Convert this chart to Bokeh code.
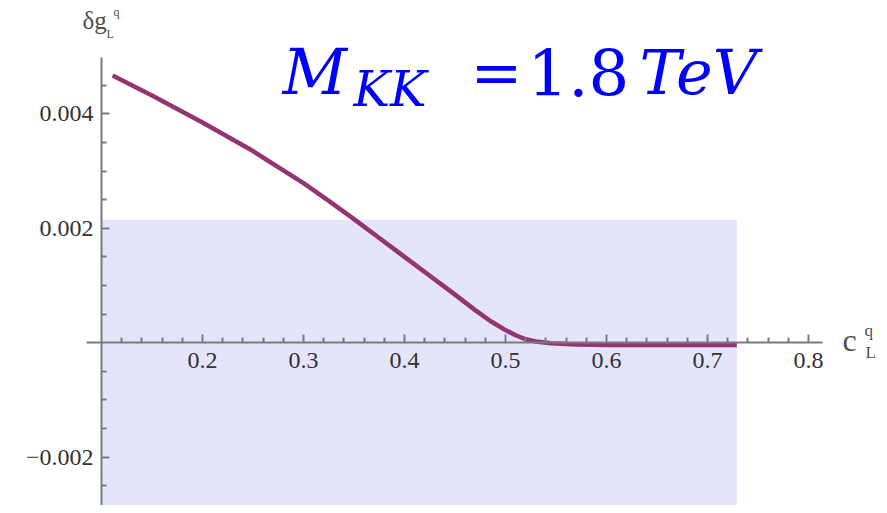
from bokeh.plotting import figure
from bokeh.models import LinearAxis, FixedTicker, Label, Range1d
from bokeh.embed import file_html
from bokeh.resources import INLINE

# ---- data ----
c_L = [0.111, 0.15, 0.2, 0.25, 0.3, 0.325, 0.35, 0.375, 0.4, 0.425, 0.45,
       0.47, 0.485, 0.5, 0.51, 0.52, 0.53, 0.545, 0.57, 0.6, 0.65, 0.729]
delta_g = [0.00467, 0.00432, 0.00385, 0.00335, 0.00279, 0.00248, 0.00216,
           0.00183, 0.00150, 0.00117, 0.00084, 0.00057, 0.00038, 0.00022,
           0.00013, 0.00006, 0.00002, -0.00001, -0.00003, -0.00004,
           -0.00004, -0.00004]

band_x = [0.1, 0.729]
band_y = [-0.00284, 0.00215]

x_ticks = [0.2, 0.3, 0.4, 0.5, 0.6, 0.7, 0.8]
x_minor = [0.12, 0.14, 0.16, 0.18, 0.22, 0.24, 0.26, 0.28, 0.32, 0.34, 0.36,
           0.38, 0.42, 0.44, 0.46, 0.48, 0.52, 0.54, 0.56, 0.58, 0.62, 0.64,
           0.66, 0.68, 0.72, 0.74, 0.76, 0.78]
y_ticks = [-0.002, 0.002, 0.004]
y_minor = [-0.0025, -0.0015, -0.001, -0.0005, 0.0005, 0.001, 0.0015, 0.0025,
           0.003, 0.0035, 0.0045]

W, H = 879, 505
PX_X = 1010.0     # pixels per unit of c_L
PX_Y = 57200.0    # pixels per unit of delta g
Y0 = 342.2        # pixel row of delta g = 0

p = figure(width=W, height=H,
           x_range=Range1d(0.0, W / PX_X),
           y_range=Range1d((Y0 - H) / PX_Y, Y0 / PX_Y),
           output_backend="svg", toolbar_location=None,
           x_axis_location=None, y_axis_location=None, min_border=0)
p.grid.visible = False
p.outline_line_color = None
p.background_fill_color = "white"

p.quad(left=[band_x[0]], right=[band_x[1]], bottom=[band_y[0]], top=[band_y[1]],
       fill_color="#e4e4fb", line_color=None)
p.line(c_L, delta_g, line_color="#923572", line_width=4.5, line_join="round")

axis_col = "#7a7a80"
lab_font = "Liberation Serif"

xaxis = LinearAxis(fixed_location=0, bounds=(0.085, 0.814),
                   ticker=FixedTicker(ticks=x_ticks, minor_ticks=x_minor))
yaxis = LinearAxis(fixed_location=0.1, bounds=(-0.0031, 0.00499),
                   ticker=FixedTicker(ticks=y_ticks, minor_ticks=y_minor))
for ax in (xaxis, yaxis):
    ax.axis_line_color = axis_col
    ax.axis_line_width = 2
    ax.major_tick_line_color = axis_col
    ax.minor_tick_line_color = axis_col
    ax.major_tick_line_width = 2
    ax.minor_tick_line_width = 2
    ax.major_tick_in = 8
    ax.major_tick_out = 0
    ax.minor_tick_in = 5
    ax.minor_tick_out = 0
    ax.major_label_text_font = lab_font
    ax.major_label_text_font_size = "24px"
    ax.major_label_text_color = "#333333"
xaxis.major_label_standoff = 10
yaxis.major_label_standoff = 8
yaxis.major_label_overrides = {-0.002: "\u22120.002"}
p.add_layout(xaxis, "below")
p.add_layout(yaxis, "left")

blue = "#0000ff"
tfont = "DejaVu Serif"

def lab(px, base_py, t, size, style="italic", color=blue, font=tfont):
    # px: left pixel, base_py: baseline pixel row (from top)
    anchor_py = base_py - 0.35 * size
    p.add_layout(Label(x=px / PX_X, y=(Y0 - anchor_py) / PX_Y, text=t,
                       text_font=font, text_font_size=f"{size}px",
                       text_font_style=style, text_color=color,
                       text_baseline="alphabetic", text_align="left"))

# title  M_KK = 1.8TeV
lab(282, 94, "M", 63)
lab(353, 106, "KK", 49)
lab(470, 94, "=", 62, style="normal")
lab(527, 94, "1.8", 64, style="normal")
lab(639, 94, "TeV", 62)

gray = "#505050"
# y-axis label  δg_L^q
lab(82, 29, "\u03b4g", 25, style="normal", color=gray, font=lab_font)
lab(113, 16, "q", 12, style="normal", color=gray, font=lab_font)
lab(106, 38, "L", 12, style="normal", color=gray, font=lab_font)
# x-axis label  c_L^q
lab(842, 351, "c", 32, style="normal", color=gray, font=lab_font)
lab(864, 336, "q", 17, style="normal", color=gray, font=lab_font)
lab(865, 358, "L", 17, style="normal", color=gray, font=lab_font)

open("out.html", "w").write(file_html(p, INLINE))
